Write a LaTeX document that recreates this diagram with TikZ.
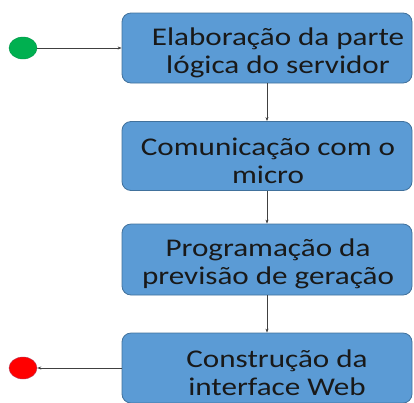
\documentclass[tikz,border=0pt]{standalone}
\usepackage{fontspec}
\setmainfont[FakeStretch=1.22]{Carlito}
\usetikzlibrary{arrows.meta,shapes.geometric}
\definecolor{boxfill}{HTML}{5B9BD5}
\definecolor{boxline}{HTML}{41719C}
\definecolor{conn}{HTML}{404040}
\definecolor{startfill}{HTML}{00B050}
\definecolor{startline}{HTML}{00964A}
\definecolor{endline}{HTML}{B43C5A}
\begin{document}
\begin{tikzpicture}[x=1pt,y=-1pt,
  stepbox/.style={draw=boxline,fill=boxfill,rounded corners=9pt,line width=0.8pt,
    minimum width=290pt,minimum height=70pt,inner sep=0pt},
  boxtext/.style={align=center,font=\fontsize{25.5}{28}\selectfont,text=black!90},
  conn/.style={draw=conn,line width=0.8pt,-{Stealth[length=4pt,width=3pt]}},
  dot/.style={ellipse,minimum width=28pt,minimum height=22pt,inner sep=0pt}]
\useasboundingbox (0,0) rectangle (414,402);
\clip (0,0) rectangle (414,402);
\node[stepbox] (b1) at (267,48) {};
\node[boxtext] (t1) at (278,53) {Elaboração da parte\\lógica do servidor};
\node[stepbox,minimum height=69pt] (b2) at (267,156) {};
\node[boxtext] (t2) at (268,161) {Comunicação com o\\micro};
\node[stepbox,minimum height=71pt] (b3) at (267,259.5) {};
\node[boxtext] (t3) at (268,264) {Programação da\\previsão de geração};
\node[stepbox] (b4) at (267,368) {};
\node[boxtext] (t4) at (277,373) {Construção da\\interface Web};
\node[dot,fill=startfill,draw=startline] (s) at (23,48) {};
\node[dot,fill=red,draw=endline] (e) at (23,368) {};
\draw[conn] (s.east) -- (b1.west);
\draw[conn] (b1.south) -- (b2.north);
\draw[conn] (b2.south) -- (b3.north);
\draw[conn] (b3.south) -- (b4.north);
\draw[conn] (b4.west) -- (e.east);
\end{tikzpicture}
\end{document}
